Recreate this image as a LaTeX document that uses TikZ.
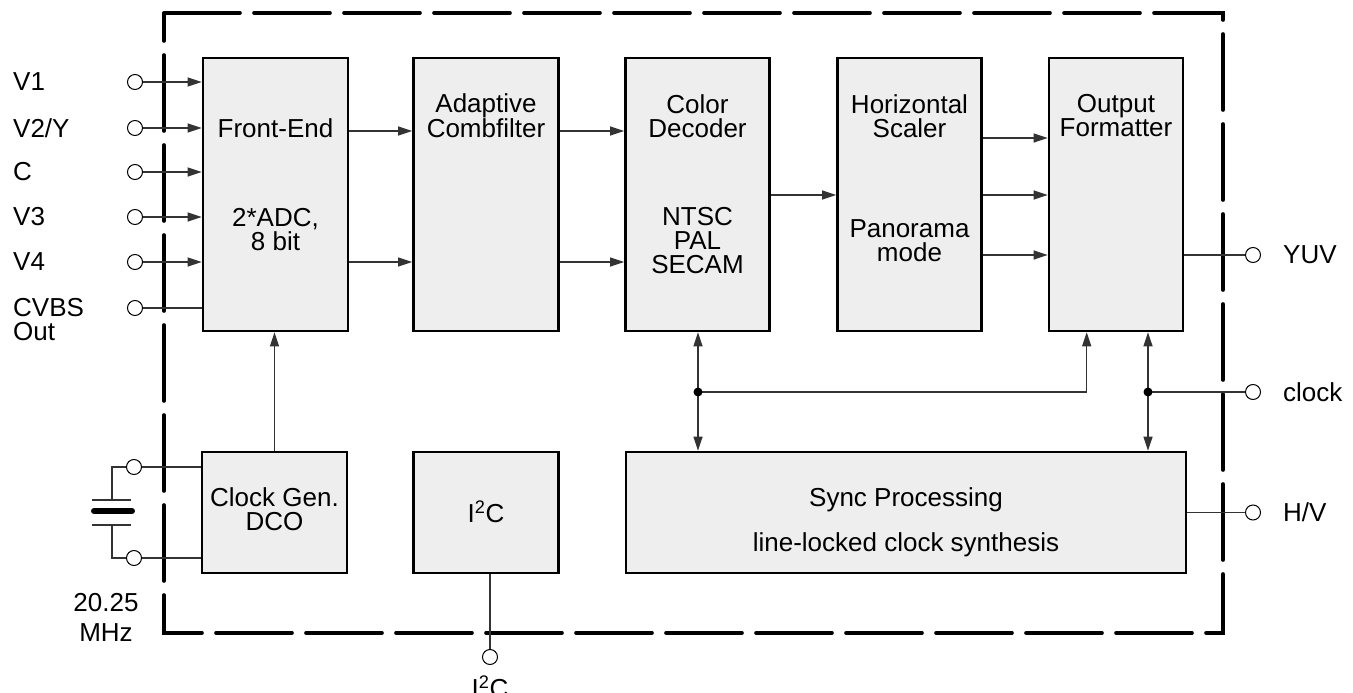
\documentclass[tikz,border=0pt]{standalone}
\usepackage{fontspec}
\setmainfont{Liberation Sans}
\usetikzlibrary{arrows.meta, calc}
\definecolor{boxgray}{HTML}{EEEEEE}
\definecolor{wiregray}{HTML}{333333}

\begin{document}
\begin{tikzpicture}[x=1pt, y=-1pt,
    font=\fontsize{26}{24}\selectfont,
    block/.style={draw, line width=2.6pt, fill=boxgray, inner sep=0pt},
    txt/.style={align=center, inner sep=0pt},
    lbl/.style={anchor=west, inner sep=0pt},
    pin/.style={draw, circle, fill=white, line width=1pt, minimum size=15pt, inner sep=0pt},
    wire/.style={draw=wiregray, line width=1.3pt},
    sig/.style={wire, -{Triangle[length=14pt, width=9pt]}},
    bisig/.style={wire, {Triangle[length=14pt, width=9pt]}-{Triangle[length=14pt, width=9pt]}},
    frame/.style={line width=3.6pt, line cap=round, dash pattern=on 76pt off 14pt}]
    \useasboundingbox (0,0) rectangle (1353,693);

    % Chip outline
    \draw[frame] (164,13) -- (1223,13) -- (1223,633) -- (164,633) -- cycle;

    % Upper row of blocks
    \node[block, minimum width=145pt, minimum height=273pt] (fe) at (275.5,194.5) {};
    \node[block, minimum width=145pt, minimum height=273pt] (cf) at (486,194.5) {};
    \node[block, minimum width=144pt, minimum height=273pt] (cd) at (697.5,194.5) {};
    \node[block, minimum width=144pt, minimum height=273pt] (hs) at (909.5,194.5) {};
    \node[block, minimum width=134pt, minimum height=273pt] (of) at (1116,194.5) {};

    \node[txt] (fetop) at (275.5,128) {Front-End};
    \node[txt] (febot) at (275.5,230) {2*ADC,\\8 bit};
    \node[txt] (cftop) at (486,116) {Adaptive\\Combfilter};
    \node[txt] (cdtop) at (697.5,116) {Color\\Decoder};
    \node[txt] (cdbot) at (697.5,241) {NTSC\\PAL\\SECAM};
    \node[txt] (hstop) at (909.5,116) {Horizontal\\Scaler};
    \node[txt] (hsbot) at (909.5,241) {Panorama\\mode};
    \node[txt] (oftop) at (1116,116) {Output\\Formatter};

    % Lower row of blocks
    \node[block, minimum width=145pt, minimum height=121pt] (cg) at (274.5,512.5) {};
    \node[block, minimum width=145pt, minimum height=121pt] (ic) at (486,512.5) {};
    \node[block, minimum width=560pt, minimum height=121pt] (sp) at (906,512.5) {};

    \node[txt] (cgtxt) at (274.5,509) {Clock Gen.\\DCO};
    \node[txt] (ictxt) at (486,512) {I\textsuperscript{2}C};
    \node[txt] (sptop) at (906,500) {Sync Processing};
    \node[txt] (spbot) at (906,545) {line-locked clock synthesis};

    % Video inputs
    \foreach \name/\y/\text in {v1/82/V1, v2/128/V2\slash Y, vc/172/C, v3/217/V3, v4/262/V4}{
        \node[pin] (p\name) at (135,\y) {};
        \node[lbl] (l\name) at (13,\y) {\text};
        \draw[sig] (p\name) -- (p\name -| fe.west);
    }
    \node[pin] (pcvbs) at (135,308) {};
    \node[lbl, align=left] (lcvbs) at (13,320) {CVBS\\Out};
    \draw[wire] (pcvbs) -- (pcvbs -| fe.west);

    % Data path
    \foreach \y in {131,262}{
        \draw[sig] (fe.east |- 0,\y) -- (cf.west |- 0,\y);
        \draw[sig] (cf.east |- 0,\y) -- (cd.west |- 0,\y);
    }
    \draw[sig] (cd.east |- 0,195) -- (hs.west |- 0,195);
    \foreach \y in {138,195,255}
        \draw[sig] (hs.east |- 0,\y) -- (of.west |- 0,\y);

    % Outputs
    \node[pin] (pyuv) at (1253,255) {};
    \node[lbl] (lyuv) at (1283,255) {YUV};
    \draw[wire] (of.east |- pyuv) -- (pyuv);

    \node[pin] (pclk) at (1253,392) {};
    \node[lbl] (lclk) at (1283,392) {clock};
    \node[pin] (phv) at (1253,512.5) {};
    \node[lbl] (lhv) at (1283,512.5) {H/V};
    \draw[wire] (sp.east) -- (phv);

    % Clock generator
    \draw[sig] (cg.north) -- (cg.north |- fe.south);

    % Sync and clock distribution
    \coordinate (jcd) at (698,392);
    \coordinate (jclk) at (1148,392);
    \draw[bisig] (jcd |- cd.south) -- (jcd |- sp.north);
    \draw[sig] (jcd) -| ([xshift=39pt]of.south west);
    \draw[bisig] (jclk |- of.south) -- (jclk |- sp.north);
    \draw[wire] (jclk) -- (pclk);
    \fill (jcd) circle (4.5pt);
    \fill (jclk) circle (4.5pt);

    % I2C pin
    \node[pin] (pic) at (490,657) {};
    \node[txt] (lic) at (490,687) {I\textsuperscript{2}C};
    \draw[wire] (ic.south -| pic) -- (pic);

    % Crystal
    \node[pin] (xt) at (134,467) {};
    \node[pin] (xb) at (134,558) {};
    \draw[wire] (xt) -- (xt -| cg.west);
    \draw[wire] (xb) -- (xb -| cg.west);
    \draw[wire] (xt.west) -- (112,467) -- (112,500);
    \draw[wire] (xb.west) -- (112,558) -- (112,525);
    \draw[wire] (92,500) -- (131,500);
    \draw[wire] (92,525) -- (131,525);
    \draw[line width=6pt, line cap=round] (94,511) -- (132,511);
    \node[txt] (lxtal) at (106,617) {20.25\\[6pt]MHz};
\end{tikzpicture}
\end{document}
